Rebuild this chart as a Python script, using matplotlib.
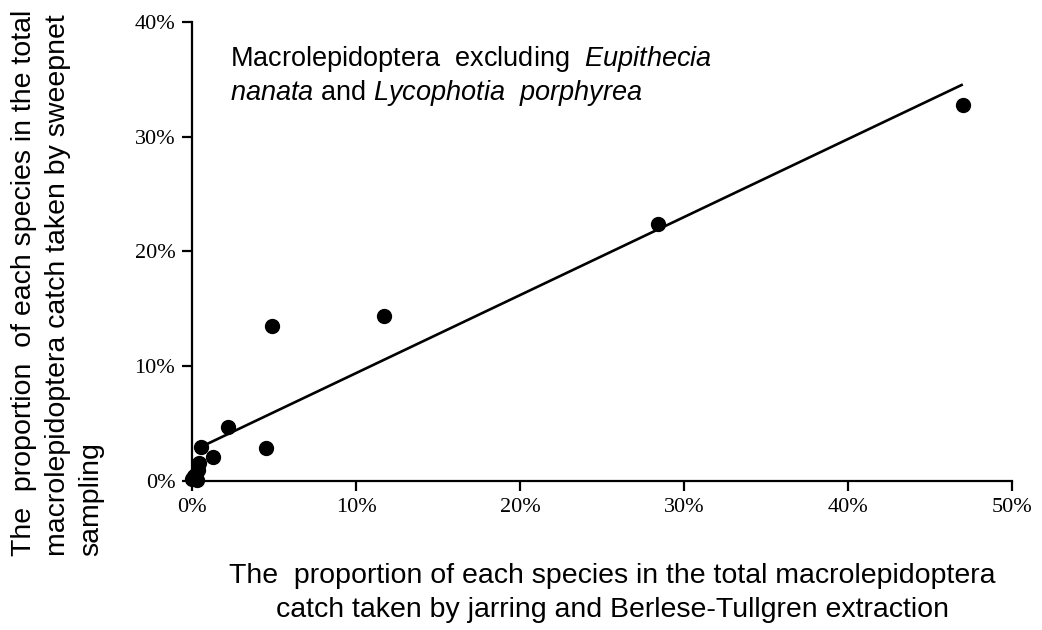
import numpy as np
import matplotlib.pyplot as plt

# values (percent)
jarring = [47.0, 28.4, 11.7, 4.9, 4.5, 2.2, 1.3, 0.55, 0.4, 0.35, 0.1, 0.3, 0.0]
sweepnet = [32.8, 22.4, 14.4, 13.5, 2.9, 4.7, 2.1, 3.0, 1.6, 1.0, 0.4, 0.05, 0.2]
fit_intercept = 2.6
fit_slope = 0.68
fit_range = [0.3, 47.0]
xticks = [0, 10, 20, 30, 40, 50]
yticks = [0, 10, 20, 30, 40]

plt.rcParams['mathtext.fontset'] = 'custom'
plt.rcParams['mathtext.rm'] = 'Liberation Sans'
plt.rcParams['mathtext.it'] = 'Liberation Sans:italic'

fig = plt.figure(figsize=(10.42, 6.30), dpi=100)
ax = fig.add_axes([192 / 1042, 1 - 481 / 630, 820 / 1042, 459 / 630])

fx = np.array(fit_range)
ax.plot(fx, fit_intercept + fit_slope * fx, color='black', lw=1.9, solid_capstyle='butt')
ax.plot(jarring, sweepnet, 'o', color='black', markersize=10, clip_on=False)

ax.set_xlim(0, 50)
ax.set_ylim(0, 40)
ax.set_xticks(xticks)
ax.set_yticks(yticks)
ax.set_xticklabels([f'{t}%' for t in xticks], family='Liberation Serif', fontsize=16)
ax.set_yticklabels([f'{t}%' for t in yticks], family='Liberation Serif', fontsize=16)
ax.tick_params(direction='out', length=7, width=1.6, pad=5)
for s in ['top', 'right']:
    ax.spines[s].set_visible(False)
for s in ['left', 'bottom']:
    ax.spines[s].set_linewidth(1.6)

# last line baseline anchors the block
fig.text(230 / 1042, 1 - 100 / 630,
         'Macrolepidoptera  excluding  $\\it{Eupithecia}$\n'
         '$\\it{nanata}$ and $\\it{Lycophotia}$  $\\it{porphyrea}$',
         family='Liberation Sans', fontsize=19.5,
         ha='left', va='baseline', linespacing=1.2)

fig.text(612 / 1042, 1 - 563 / 630,
         'The  proportion of each species in the total macrolepidoptera\n'
         'catch taken by jarring and Berlese-Tullgren extraction',
         family='Liberation Sans', fontsize=20.5, ha='center', va='top',
         multialignment='center', linespacing=1.38)

fig.text(58 / 1042, 1 - 556 / 630,
         'The  proportion  of each species in the total\n'
         'macrolepidoptera catch taken by sweepnet\n'
         'sampling',
         family='Liberation Sans', fontsize=20.5, ha='center', va='bottom',
         rotation=90, multialignment='left', linespacing=1.38)

fig.savefig('out.png', dpi=100)
